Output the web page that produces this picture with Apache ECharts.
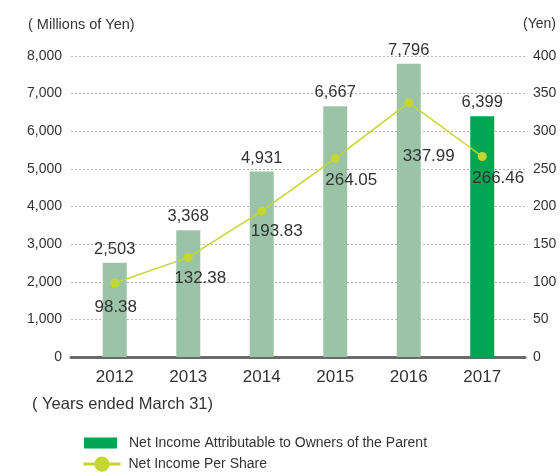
<!DOCTYPE html>
<html>
<head>
<meta charset="utf-8">
<script src="https://cdn.jsdelivr.net/npm/echarts@6/dist/echarts.min.js"></script>
<style>
  html, body { margin: 0; padding: 0; background: #fff; }
  #chart { width: 560px; height: 473px; }
</style>
</head>
<body>
<div id="chart"></div>
<script>
// Fiscal years (ended March 31)
const years = ['2012', '2013', '2014', '2015', '2016', '2017'];
// Net income attributable to owners of the parent, millions of yen
const netIncome = [2503, 3368, 4931, 6667, 7796, 6399];
// Net income per share, yen
const perShare = [98.38, 132.38, 193.83, 264.05, 337.99, 266.46];

const barName = 'Net Income Attributable to Owners of the Parent';
const lineName = 'Net Income Per Share';

const GREEN = '#00a651';
const SAGE = '#9bc3a8';
const LIME = '#c4d630';
const TEXT = '#333';

// label nudges for the per-share values, in pixels
const perShareLabelShift = [[1, 6], [12, 3], [15, 2], [16, 4], [20, 36], [16, 4]];

const chart = echarts.init(document.getElementById('chart'), null, { renderer: 'canvas' });

const TOP = 56, BOTTOM = 116;
const font = 'Arial, "Liberation Sans", Helvetica, sans-serif';

chart.setOption({
  animation: false,
  textStyle: { fontFamily: font },
  grid: [
    // plot grid carrying the bars and the line
    { left: 78, right: 41, top: TOP, bottom: BOTTOM },
    // frame grid carrying gridlines, baseline and value labels
    { left: 71, right: 35, top: TOP, bottom: BOTTOM }
  ],
  xAxis: [
    {
      type: 'category', gridIndex: 0, data: years,
      axisLine: { show: false }, axisTick: { show: false },
      axisLabel: { color: TEXT, fontSize: 17, margin: 12 }
    },
    {
      type: 'value', gridIndex: 1, min: 0, max: 1,
      axisLine: { show: true, lineStyle: { color: '#6b6b6b', width: 3 } },
      axisTick: { show: false }, axisLabel: { show: false }, splitLine: { show: false }
    }
  ],
  yAxis: [
    { type: 'value', gridIndex: 0, min: 0, max: 8000, interval: 1000, show: false },
    { type: 'value', gridIndex: 0, min: 0, max: 400, interval: 50, show: false },
    {
      type: 'value', gridIndex: 1, min: 0, max: 8000, interval: 1000, position: 'left',
      axisLine: { show: false }, axisTick: { show: false },
      axisLabel: {
        color: TEXT, fontSize: 14, margin: 9,
        formatter: v => v.toLocaleString('en-US')
      },
      splitLine: { show: true, lineStyle: { color: '#b4b4b4', width: 1, type: [2, 2] } }
    },
    {
      type: 'value', gridIndex: 1, min: 0, max: 400, interval: 50, position: 'right',
      axisLine: { show: false }, axisTick: { show: false },
      axisLabel: { color: TEXT, fontSize: 14, margin: 8 },
      splitLine: { show: false }
    }
  ],
  legend: [
    {
      left: 84, top: 436, padding: 0,
      itemWidth: 33, itemHeight: 11,
      textStyle: { color: TEXT, fontSize: 14, padding: [0, 0, 0, 7] },
      data: [{ name: barName, icon: 'rect' }]
    },
    {
      left: 82, top: 456.5, padding: 0,
      itemWidth: 37, itemHeight: 19,
      lineStyle: { width: 3 },
      textStyle: { color: TEXT, fontSize: 14, padding: [0, 0, 0, 3] },
      data: [{ name: lineName }]
    }
  ],
  graphic: [
    { type: 'text', left: 28, top: 17, style: { text: '( Millions of Yen)', fontSize: 14.5, fill: TEXT, fontFamily: font } },
    { type: 'text', right: 4, top: 17, style: { text: '(Yen)', fontSize: 14, fill: TEXT, fontFamily: font } },
    { type: 'text', left: 32, top: 396, style: { text: '( Years ended March 31)', fontSize: 16.5, fill: TEXT, fontFamily: font } }
  ],
  series: [
    {
      name: barName, type: 'bar', xAxisIndex: 0, yAxisIndex: 0,
      barWidth: 24,
      itemStyle: { color: GREEN },
      data: netIncome.map((v, i) => ({
        value: v,
        itemStyle: { color: i === netIncome.length - 1 ? GREEN : SAGE }
      })),
      label: {
        show: true, position: 'top', distance: 5,
        color: TEXT, fontSize: 16.5,
        formatter: p => p.value.toLocaleString('en-US')
      },
      z: 2
    },
    {
      name: lineName, type: 'line', xAxisIndex: 0, yAxisIndex: 1,
      symbol: 'circle', symbolSize: 9,
      lineStyle: { color: LIME, width: 1.5 },
      itemStyle: { color: LIME },
      data: perShare.map((v, i) => ({
        value: v,
        label: { offset: perShareLabelShift[i] }
      })),
      label: {
        show: true, position: 'bottom', distance: 5,
        color: TEXT, fontSize: 17,
        formatter: p => p.value.toFixed(2)
      },
      z: 3
    }
  ]
});
</script>
</body>
</html>
